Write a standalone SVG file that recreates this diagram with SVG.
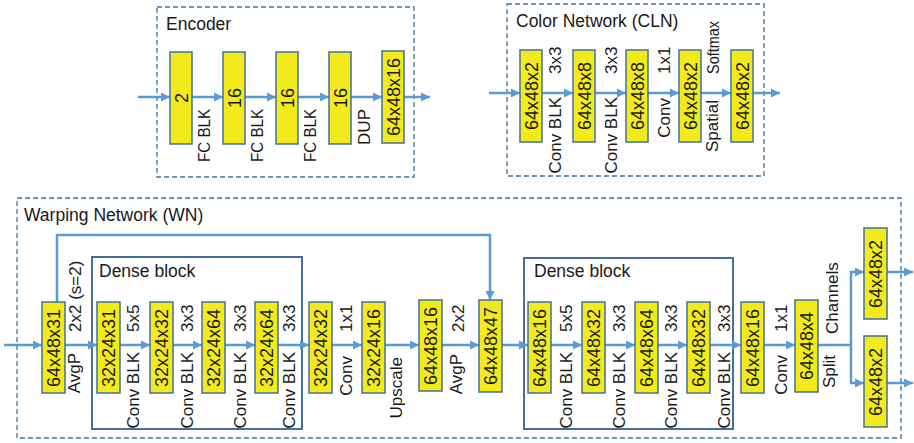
<svg xmlns="http://www.w3.org/2000/svg" width="914" height="443" viewBox="0 0 914 443">
<style>
.bg{fill:#ffffff}
.dash{fill:none;stroke:#41719c;stroke-width:1.3;stroke-dasharray:5 3}
.dense{fill:none;stroke:#41719c;stroke-width:2}
.bar{fill:#f2ea1a;stroke:#41719c;stroke-width:1.5}
.con{fill:none;stroke:#5b9bd5;stroke-width:2.5}
.arr{marker-end:url(#ah)}
text{font-family:"Liberation Sans",Arial,sans-serif;fill:#1a1a1a}
.t{font-size:17.5px}
.b{font-size:18px;text-anchor:middle}
.l{font-size:17px}
.lo{text-anchor:end}
.up{text-anchor:start}
</style>
<defs>
<marker id="ah" markerUnits="userSpaceOnUse" markerWidth="10" markerHeight="10" refX="9" refY="5" orient="auto">
<path d="M0,0.5 L9,5 L0,9.5 z" fill="#5b9bd5"/>
</marker>
</defs>
<rect class="bg" x="0" y="0" width="914" height="443"/>

<g id="frames">
<rect class="dash" x="157" y="7" width="257" height="170"/>
<text class="t" x="166" y="30">Encoder</text>
<rect class="dash" x="507" y="4" width="257" height="172"/>
<text class="t" x="516" y="27">Color Network (CLN)</text>
<rect class="dash" x="17" y="198" width="884" height="240"/>
<text class="t" x="24" y="221">Warping Network (WN)</text>
</g>
<g id="dense1">
<rect class="dense" x="92" y="257" width="210" height="172"/>
<text class="t" x="99" y="277">Dense block</text>
</g>
<g id="dense2">
<rect class="dense" x="524" y="258" width="209" height="171"/>
<text class="t" x="534" y="277">Dense block</text>
</g>

<g id="connectors">
<line class="con arr" x1="138" y1="97" x2="170" y2="97"/>
<line class="con arr" x1="192" y1="97" x2="223" y2="97"/>
<line class="con arr" x1="245" y1="97" x2="276" y2="97"/>
<line class="con arr" x1="298" y1="97" x2="329" y2="97"/>
<line class="con arr" x1="351" y1="97" x2="382" y2="97"/>
<line class="con arr" x1="404" y1="97" x2="430" y2="97"/>

<line class="con arr" x1="489" y1="93" x2="520" y2="93"/>
<line class="con arr" x1="542" y1="93" x2="573" y2="93"/>
<line class="con arr" x1="595" y1="93" x2="626" y2="93"/>
<line class="con arr" x1="648" y1="93" x2="679" y2="93"/>
<line class="con arr" x1="701" y1="93" x2="731" y2="93"/>
<line class="con arr" x1="753" y1="93" x2="780" y2="93"/>

<line class="con arr" x1="4" y1="345" x2="42" y2="345"/>
<line class="con arr" x1="65" y1="345" x2="97" y2="345"/>
<line class="con arr" x1="120" y1="345" x2="150" y2="345"/>
<line class="con arr" x1="173" y1="345" x2="202" y2="345"/>
<line class="con arr" x1="225" y1="345" x2="255" y2="345"/>
<line class="con arr" x1="278" y1="345" x2="309" y2="345"/>
<line class="con arr" x1="332" y1="345" x2="362" y2="345"/>
<line class="con arr" x1="385" y1="345" x2="419" y2="345"/>
<line class="con arr" x1="442" y1="345" x2="479" y2="345"/>
<line class="con arr" x1="502" y1="345" x2="528" y2="345"/>
<line class="con arr" x1="551" y1="345" x2="582" y2="345"/>
<line class="con arr" x1="605" y1="345" x2="635" y2="345"/>
<line class="con arr" x1="658" y1="345" x2="687" y2="345"/>
<line class="con arr" x1="710" y1="345" x2="741" y2="345"/>
<line class="con arr" x1="764" y1="345" x2="795" y2="345"/>

<polyline class="con arr" points="57,302 57,235 490,235 490,300"/>

<line class="con" x1="818" y1="345" x2="851" y2="345"/>
<line class="con" x1="851" y1="271" x2="851" y2="384"/>
<line class="con arr" x1="850" y1="272" x2="864" y2="272"/>
<line class="con arr" x1="850" y1="383" x2="864" y2="383"/>
<line class="con arr" x1="887" y1="272" x2="913" y2="272"/>
<line class="con arr" x1="887" y1="383" x2="913" y2="383"/>
</g>

<g id="enc_labels">
<text class="l lo" transform="translate(210,109) rotate(-90)" textLength="53" lengthAdjust="spacingAndGlyphs">FC BLK</text>
<text class="l lo" transform="translate(263,109) rotate(-90)" textLength="53" lengthAdjust="spacingAndGlyphs">FC BLK</text>
<text class="l lo" transform="translate(316,109) rotate(-90)" textLength="53" lengthAdjust="spacingAndGlyphs">FC BLK</text>
<text class="l lo" transform="translate(370,109) rotate(-90)">DUP</text>
</g>
<g id="enc1"><rect class="bar" x="170" y="52" width="22" height="92"/><text class="b" transform="translate(187.5,98) rotate(-90)">2</text></g>
<g id="enc2"><rect class="bar" x="223" y="52" width="22" height="92"/><text class="b" transform="translate(240.5,98) rotate(-90)">16</text></g>
<g id="enc3"><rect class="bar" x="276" y="52" width="22" height="92"/><text class="b" transform="translate(293.5,98) rotate(-90)">16</text></g>
<g id="enc4"><rect class="bar" x="329" y="52" width="22" height="92"/><text class="b" transform="translate(346.5,98) rotate(-90)">16</text></g>
<g id="enc5"><rect class="bar" x="382" y="51" width="22" height="92"/><text class="b" transform="translate(399.5,97) rotate(-90)">64x48x16</text></g>

<g id="cln_labels">
<text class="l up" transform="translate(561,74) rotate(-90)">3x3</text>
<text class="l lo" transform="translate(561,97) rotate(-90)">Conv BLK</text>
<text class="l up" transform="translate(617,74) rotate(-90)">3x3</text>
<text class="l lo" transform="translate(617,97) rotate(-90)">Conv BLK</text>
<text class="l up" transform="translate(670,74) rotate(-90)">1x1</text>
<text class="l lo" transform="translate(670,98) rotate(-90)">Conv</text>
<text class="l up" transform="translate(719,74) rotate(-90)" textLength="53" lengthAdjust="spacingAndGlyphs">Softmax</text>
<text class="l lo" transform="translate(718,100) rotate(-90)">Spatial</text>
</g>
<g id="cln1"><rect class="bar" x="520" y="50" width="22" height="92"/><text class="b" transform="translate(537.5,96) rotate(-90)">64x48x2</text></g>
<g id="cln2"><rect class="bar" x="573" y="50" width="22" height="92"/><text class="b" transform="translate(590.5,96) rotate(-90)">64x48x8</text></g>
<g id="cln3"><rect class="bar" x="626" y="50" width="22" height="92"/><text class="b" transform="translate(643.5,96) rotate(-90)">64x48x8</text></g>
<g id="cln4"><rect class="bar" x="679" y="50" width="22" height="92"/><text class="b" transform="translate(696.5,96) rotate(-90)">64x48x2</text></g>
<g id="cln5"><rect class="bar" x="731" y="50" width="22" height="92"/><text class="b" transform="translate(748.5,96) rotate(-90)">64x48x2</text></g>

<g id="wn_labels">
<text class="l up" transform="translate(81,332) rotate(-90)">2x2 (s=2)</text>
<text class="l lo" transform="translate(80,353) rotate(-90)">AvgP</text>
<text class="l up" transform="translate(139,332) rotate(-90)">5x5</text>
<text class="l lo" transform="translate(139,352) rotate(-90)">Conv BLK</text>
<text class="l up" transform="translate(193,332) rotate(-90)">3x3</text>
<text class="l lo" transform="translate(193,352) rotate(-90)">Conv BLK</text>
<text class="l up" transform="translate(246,332) rotate(-90)">3x3</text>
<text class="l lo" transform="translate(246,352) rotate(-90)">Conv BLK</text>
<text class="l up" transform="translate(295,332) rotate(-90)">3x3</text>
<text class="l lo" transform="translate(295,352) rotate(-90)">Conv BLK</text>
<text class="l up" transform="translate(352,332) rotate(-90)">1x1</text>
<text class="l lo" transform="translate(352,356) rotate(-90)">Conv</text>
<text class="l lo" transform="translate(402,357) rotate(-90)">Upscale</text>
<text class="l up" transform="translate(464,332) rotate(-90)">2x2</text>
<text class="l lo" transform="translate(462,354) rotate(-90)">AvgP</text>
<text class="l up" transform="translate(572,332) rotate(-90)">5x5</text>
<text class="l lo" transform="translate(572,352) rotate(-90)">Conv BLK</text>
<text class="l up" transform="translate(625,332) rotate(-90)">3x3</text>
<text class="l lo" transform="translate(625,352) rotate(-90)">Conv BLK</text>
<text class="l up" transform="translate(677,332) rotate(-90)">3x3</text>
<text class="l lo" transform="translate(677,352) rotate(-90)">Conv BLK</text>
<text class="l up" transform="translate(730,332) rotate(-90)">3x3</text>
<text class="l lo" transform="translate(730,352) rotate(-90)">Conv BLK</text>
<text class="l up" transform="translate(787,332) rotate(-90)">1x1</text>
<text class="l lo" transform="translate(787,355) rotate(-90)">Conv</text>
<text class="l up" transform="translate(838,334) rotate(-90)">Channels</text>
<text class="l lo" transform="translate(835,355) rotate(-90)">Split</text>
</g>
<g id="wn1"><rect class="bar" x="42" y="302" width="23" height="91"/><text class="b" transform="translate(60,348) rotate(-90)">64x48x31</text></g>
<g id="wn2"><rect class="bar" x="97" y="302" width="23" height="91"/><text class="b" transform="translate(115,348) rotate(-90)">32x24x31</text></g>
<g id="wn3"><rect class="bar" x="150" y="302" width="23" height="91"/><text class="b" transform="translate(168,348) rotate(-90)">32x24x32</text></g>
<g id="wn4"><rect class="bar" x="202" y="302" width="23" height="91"/><text class="b" transform="translate(220,348) rotate(-90)">32x24x64</text></g>
<g id="wn5"><rect class="bar" x="255" y="302" width="23" height="91"/><text class="b" transform="translate(273,348) rotate(-90)">32x24x64</text></g>
<g id="wn6"><rect class="bar" x="309" y="302" width="23" height="91"/><text class="b" transform="translate(327,348) rotate(-90)">32x24x32</text></g>
<g id="wn7"><rect class="bar" x="362" y="302" width="23" height="91"/><text class="b" transform="translate(380,348) rotate(-90)">32x24x16</text></g>
<g id="wn8"><rect class="bar" x="419" y="300" width="23" height="91"/><text class="b" transform="translate(437,346) rotate(-90)">64x48x16</text></g>
<g id="wn9"><rect class="bar" x="479" y="300" width="23" height="92"/><text class="b" transform="translate(497,346) rotate(-90)">64x48x47</text></g>
<g id="wn10"><rect class="bar" x="528" y="302" width="23" height="91"/><text class="b" transform="translate(546,348) rotate(-90)">64x48x16</text></g>
<g id="wn11"><rect class="bar" x="582" y="302" width="23" height="91"/><text class="b" transform="translate(600,348) rotate(-90)">64x48x32</text></g>
<g id="wn12"><rect class="bar" x="635" y="302" width="23" height="91"/><text class="b" transform="translate(653,348) rotate(-90)">64x48x64</text></g>
<g id="wn13"><rect class="bar" x="687" y="302" width="23" height="91"/><text class="b" transform="translate(705,348) rotate(-90)">64x48x32</text></g>
<g id="wn14"><rect class="bar" x="741" y="302" width="23" height="91"/><text class="b" transform="translate(759,348) rotate(-90)">64x48x16</text></g>
<g id="wn15"><rect class="bar" x="795" y="300" width="23" height="92"/><text class="b" transform="translate(813,346) rotate(-90)">64x48x4</text></g>
<g id="wn16"><rect class="bar" x="864" y="228" width="23" height="91"/><text class="b" transform="translate(882,274) rotate(-90)">64x48x2</text></g>
<g id="wn17"><rect class="bar" x="864" y="336" width="23" height="91"/><text class="b" transform="translate(882,382) rotate(-90)">64x48x2</text></g>
</svg>
